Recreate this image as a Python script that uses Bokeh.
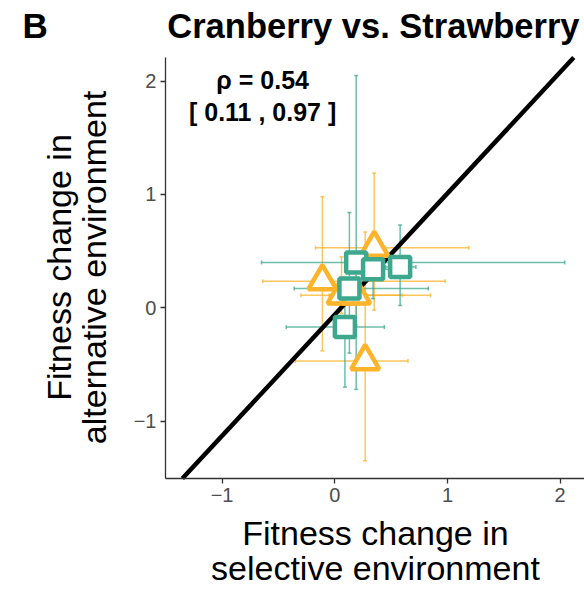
from bokeh.plotting import figure
from bokeh.models import Range1d, FixedTicker, Label
from bokeh.embed import file_html
from bokeh.resources import INLINE
import numpy as np

# Lines selected on cranberry (squares) and strawberry (triangles)
sq_x = [0.19, 0.34, 0.58, 0.13, 0.09]
sq_y = [0.40, 0.34, 0.36, 0.17, -0.17]
sq_x_lo = [-0.65, 0.15, 0.45, -0.36, -0.43]
sq_x_hi = [2.04, 0.55, 0.72, 0.83, 0.44]
sq_y_lo = [-0.72, 0.08, 0.02, -0.40, -0.70]
sq_y_hi = [2.05, 0.60, 0.73, 0.84, 0.15]

tr_x = [0.35, -0.11, 0.06, 0.19, 0.27]
tr_y = [0.53, 0.235, 0.11, 0.11, -0.47]
tr_x_lo = [-0.17, -0.64, -0.30, -0.05, -0.35]
tr_x_hi = [1.19, 0.98, 0.85, 0.60, 0.65]
tr_y_lo = [-0.02, -0.38, -0.05, -0.15, -1.35]
tr_y_hi = [1.19, 0.98, 0.45, 0.35, 0.67]

# fitted line through the cloud
fit_slope = 1.07
fit_intercept = -0.06

rho_text = "\u03c1 = 0.54"
ci_text = "[ 0.11 , 0.97 ]"
ticks = [-1, 0, 1, 2]

# panel limits (data units)
PX0, PX1 = -1.502, 2.216
PY0, PY1 = -1.507, 2.209

TEAL = "#3DA88E"
ORANGE = "#FDB32A"
FONT = "Liberation Sans"

# the frame fills the whole canvas; the axes sit at the panel edges
p = figure(width=584, height=590, output_backend="svg", toolbar_location=None,
           title=None,
           x_range=Range1d(-2.966, 2.216), y_range=Range1d(-2.495, 2.712),
           min_border_left=0, min_border_right=0, min_border_top=0,
           min_border_bottom=0)
p.outline_line_color = None
p.grid.visible = False
p.background_fill_color = "white"

p.xaxis.fixed_location = PY0
p.xaxis.bounds = (PX0, PX1)
p.yaxis.fixed_location = PX0
p.yaxis.bounds = (PY0, PY1)

for ax in (p.xaxis, p.yaxis):
    ax.ticker = FixedTicker(ticks=ticks)
    ax.major_label_overrides = {-1: "\u22121", 0: "0", 1: "1", 2: "2"}
    ax.axis_line_color = "#333333"
    ax.axis_line_width = 1.3
    ax.major_tick_line_color = "#333333"
    ax.major_tick_line_width = 1.3
    ax.major_tick_out = 5
    ax.major_tick_in = 0
    ax.minor_tick_line_color = None
    ax.major_label_text_color = "#4D4D4D"
    ax.major_label_text_font = FONT
    ax.major_label_text_font_size = "20px"
    ax.major_label_standoff = 4

# error bars
def draw_errors(x, y, xlo, xhi, ylo, yhi, color):
    p.segment(x0=xlo, y0=y, x1=xhi, y1=y, line_color=color, line_width=1.5, line_alpha=0.75)
    p.segment(x0=x, y0=ylo, x1=x, y1=yhi, line_color=color, line_width=1.5, line_alpha=0.75)
    p.scatter(x=xlo + xhi, y=y + y, marker="dash", angle=np.pi / 2, size=4,
              line_color=color, line_width=1.5, line_alpha=0.75)
    p.scatter(x=x + x, y=ylo + yhi, marker="dash", size=4,
              line_color=color, line_width=1.5, line_alpha=0.75)

draw_errors(tr_x, tr_y, tr_x_lo, tr_x_hi, tr_y_lo, tr_y_hi, ORANGE)
draw_errors(sq_x, sq_y, sq_x_lo, sq_x_hi, sq_y_lo, sq_y_hi, TEAL)

# fitted line, kept inside the panel
lx0 = max(PX0, (PY0 - fit_intercept) / fit_slope)
lx1 = min(PX1, (PY1 - fit_intercept) / fit_slope)
lx = np.array([lx0, lx1])
p.line(lx, fit_slope * lx + fit_intercept, line_color="black", line_width=4.5)

p.scatter(tr_x, tr_y, marker="triangle", size=28, fill_color="white",
          line_color=ORANGE, line_width=4.5)
p.scatter(sq_x, sq_y, marker="square", size=20, fill_color="white",
          line_color=TEAL, line_width=4.5)

def label(x, y, text, size, bold=False, angle=0.0, align="center"):
    p.add_layout(Label(x=x, y=y, text=text, text_font=FONT, text_font_size=size,
                       text_font_style="bold" if bold else "normal", text_color="black",
                       text_align=align, text_baseline="alphabetic", angle=angle))

# correlation annotation
label(-0.64, 2.006, rho_text, "25px", bold=True)
label(-0.64, 1.724, ci_text, "25px", bold=True)

# panel letter and title
label(-2.77, 2.488, "B", "35px", bold=True, align="left")
label(0.343, 2.486, "Cranberry vs. Strawberry", "34.5px", bold=True)

# axis titles
label(0.361, -1.99, "Fitness change in", "34px")
label(0.361, -2.30, "selective environment", "34px")
label(-2.445, 0.356, "Fitness change in", "34px", angle=np.pi / 2)
label(-2.135, 0.356, "alternative environment", "34px", angle=np.pi / 2)

open("out.html", "w").write(file_html(p, INLINE))
